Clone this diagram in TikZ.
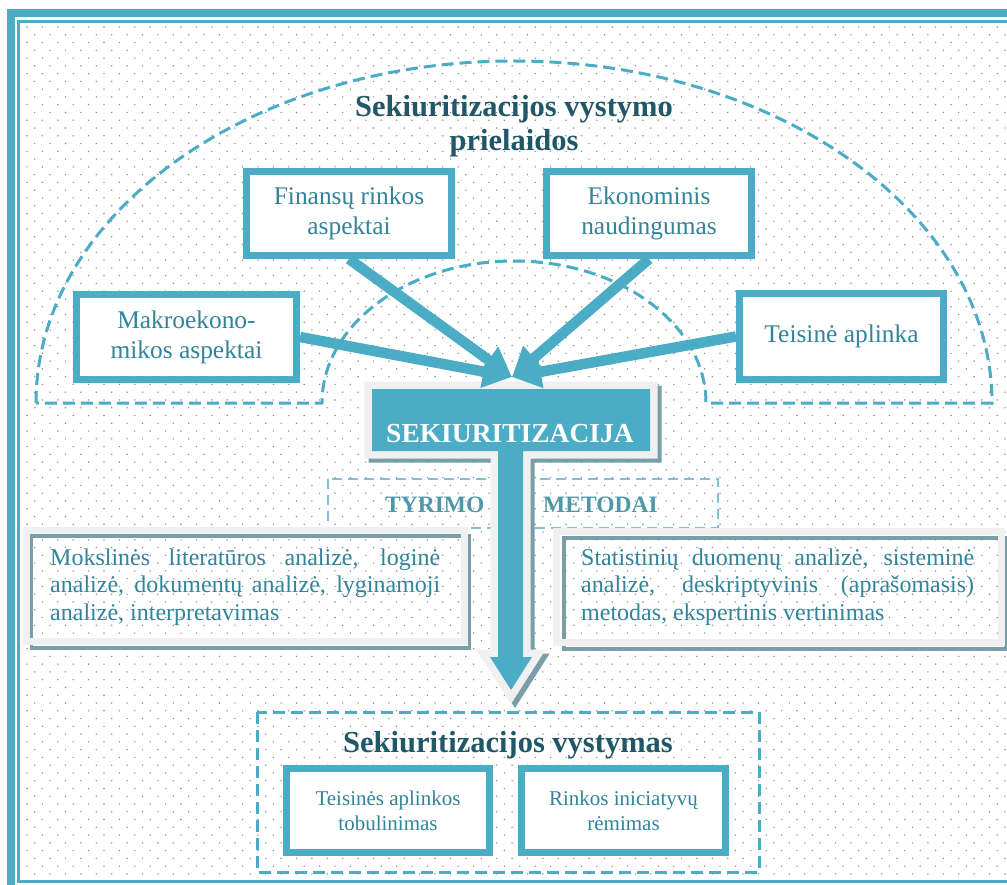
\documentclass[tikz,border=0pt]{standalone}
\usepackage{fontspec}
\setmainfont{Liberation Serif}
\usetikzlibrary{arrows.meta}
\definecolor{teal1}{HTML}{4BACC6}
\definecolor{textteal}{HTML}{31849B}
\definecolor{titlecol}{HTML}{215868}
\definecolor{grayframe}{HTML}{F0F0F0}
\definecolor{shadowcol}{HTML}{7A9EA7}
\definecolor{dotcol}{HTML}{8E8E8E}
\definecolor{methcol}{HTML}{4F98AA}
\definecolor{dashlight}{HTML}{7CC2D4}
\begin{document}
\begin{tikzpicture}[x=1pt,y=-1pt,
  box/.style={draw=teal1, line width=7pt, fill=white, text=textteal, align=center, inner sep=0pt,
    font=\fontsize{25.4pt}{30pt}\selectfont},
  smallbox/.style={box, font=\fontsize{21pt}{25pt}\selectfont},
  bigarrow/.style={draw=teal1, line width=10.5pt, -{Triangle[length=29pt,width=31pt]}},
  dashline/.style={draw=teal1, line width=3pt, dash pattern=on 12pt off 6pt},
  dashthin/.style={draw=dashlight, line width=2.2pt, dash pattern=on 10pt off 6pt},
  titletext/.style={text=titlecol, font=\fontsize{30.5pt}{33pt}\selectfont\bfseries, inner sep=0pt},
  methtext/.style={text=textteal, font=\fontsize{24pt}{27.5pt}\selectfont, inner sep=0pt, anchor=base west},
  methhead/.style={text=methcol, font=\fontsize{23.5pt}{26pt}\selectfont\bfseries, inner sep=0pt, anchor=base west},
  tpath/.style={insert path={(372,389) -- (650,389) -- (650,451) -- (523,451) -- (523,657) -- (532,657) -- (511,690) -- (490,657) -- (498,657) -- (498,451) -- (372,451) -- cycle}}
]
\useasboundingbox (0,0) rectangle (1007,885);
\clip (0,0) rectangle (1007,885);
\fill[white] (0,0) rectangle (1007,885);
% dotted background
\foreach \i in {0,...,109}{
  \pgfmathsetmacro{\yy}{27+7.77*\i}
  \pgfmathsetmacro{\xo}{27+7.7*mod(\i,2)}
  \fill[dotcol] \foreach \j in {0,...,63}{({\xo+15.4*\j},\yy) circle (0.8)};
}
% frame
\draw[teal1, line width=8pt] (11,13.5) rectangle (1200,1100);
\draw[teal1, line width=2.5pt] (18.7,21.5) rectangle (1200,881.5);
% block arc (dashed)
\draw[dashline] (36,403) arc[start angle=180, end angle=360, x radius=478, y radius=342]
  -- (706,403) arc[start angle=360, end angle=180, x radius=192, y radius=142] -- cycle;
% TYRIMO METODAI dashed frame
\draw[dashthin] (328,479) rectangle (718,528);
% method boxes frames
\draw[shadowcol, line width=3.5pt] (31.5,536) rectangle (469.5,648);
\draw[grayframe, line width=7pt] (26.5,530.5) rectangle (464.5,641.5);
\draw[shadowcol, line width=3.5pt] (564,538) rectangle (1006,649);
\draw[grayframe, line width=7pt] (556.5,531.5) rectangle (1001.5,642.5);
% central T arrow
\begin{scope}[shift={(4,4)}]
  \draw[shadowcol, fill=shadowcol, line width=15pt, line join=miter, tpath];
\end{scope}
\draw[grayframe, line width=15pt, line join=miter, tpath];
\fill[teal1, tpath];
\node[text=white, font=\fontsize{27.5pt}{30pt}\selectfont\bfseries, anchor=base, inner sep=0pt] (sek) at (510,442) {SEKIURITIZACIJA};
% titles
\node[titletext, anchor=base] (t1) at (514,117) {Sekiuritizacijos vystymo};
\node[titletext, anchor=base] (t2) at (514,151) {prielaidos};
% top boxes
\node[box, minimum width=205pt, minimum height=84pt] (fin) at (349,213.5) {Finansų rinkos\\aspektai};
\node[box, minimum width=205pt, minimum height=84pt] (eko) at (649,213.5) {Ekonominis\\naudingumas};
\node[box, minimum width=220pt, minimum height=85pt] (mak) at (186.5,337) {Makroekono-\\mikos aspektai};
\node[box, minimum width=204pt, minimum height=86pt] (tei) at (841.5,336.5) {Teisinė aplinka};
% arrows
\coordinate (tip) at (512,377);
\draw[bigarrow] (fin.south) -- (tip);
\draw[bigarrow] (eko.south) -- (tip);
\draw[bigarrow] (mak.east) -- (tip);
\draw[bigarrow] (tei.west) -- (tip);
% method headings
\node[methhead] (tyr) at (385,512) {TYRIMO};
\node[methhead] (met) at (543,512) {METODAI};
% method texts
\node[methtext] (ml1) at (50,565) {\makebox[390pt][s]{Mokslinės literatūros analizė, loginė}};
\node[methtext] (ml2) at (50,592.5) {\makebox[390pt][s]{analizė, dokumentų analizė, lyginamoji}};
\node[methtext] (ml3) at (50,620) {analizė, interpretavimas};
\node[methtext] (mr1) at (581,565) {\makebox[393pt][s]{Statistinių duomenų analizė, sisteminė}};
\node[methtext] (mr2) at (581,592.5) {\makebox[393pt][s]{analizė, deskriptyvinis (aprašomasis)}};
\node[methtext] (mr3) at (581,620) {metodas, ekspertinis vertinimas};
% bottom section
\draw[dashline] (257,712) rectangle (759,872);
\node[titletext, anchor=base] (t3) at (508,752) {Sekiuritizacijos vystymas};
\node[smallbox, minimum width=203pt, minimum height=84pt] (b1) at (388,810.5) {Teisinės aplinkos\\tobulinimas};
\node[smallbox, minimum width=204pt, minimum height=84pt] (b2) at (623.5,810.5) {Rinkos iniciatyvų\\rėmimas};
\end{tikzpicture}
\end{document}
